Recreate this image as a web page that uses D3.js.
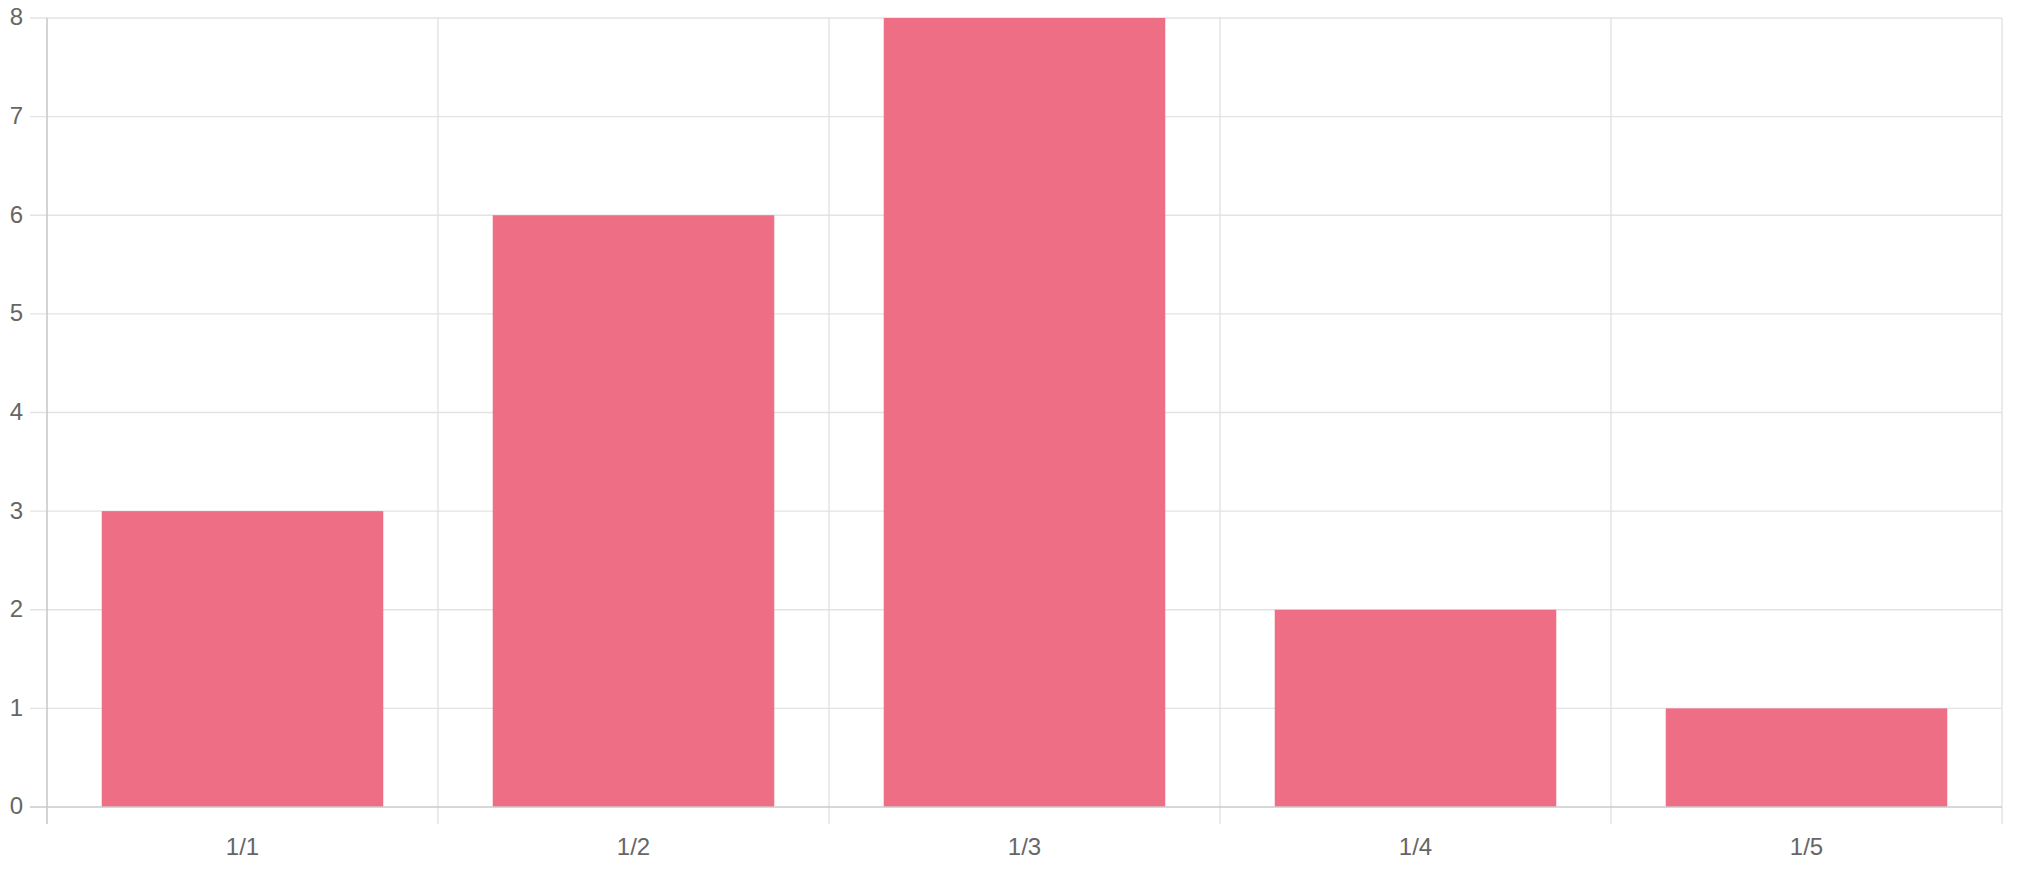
<!DOCTYPE html>
<html>
<head>
<meta charset="utf-8">
<script src="https://cdn.jsdelivr.net/npm/d3@7/dist/d3.min.js"></script>
<style>
  html, body { margin: 0; padding: 0; background: #fff; }
  svg { display: block; }
  text { font-family: "Liberation Sans", Arial, Helvetica, sans-serif; fill: #666; }
</style>
</head>
<body>
<svg id="chart" width="2024" height="876"></svg>
<script>
const categories = ["1/1", "1/2", "1/3", "1/4", "1/5"];
const values = [3, 6, 8, 2, 1];
const yTicks = [0, 1, 2, 3, 4, 5, 6, 7, 8];

const W = 2024, H = 876;
const margin = { left: 47, right: 22, top: 18, bottom: 69 };
const svg = d3.select("#chart");

const x = d3.scaleBand().domain(categories)
  .range([margin.left, W - margin.right])
  .paddingInner(0).paddingOuter(0);
const y = d3.scaleLinear().domain([0, 8]).range([H - margin.bottom, margin.top]);

const barPct = 0.72;
const tickLen = 17;

// horizontal grid
svg.append("g").selectAll("line").data(yTicks.filter(d => d !== 0)).join("line")
  .attr("x1", margin.left - tickLen).attr("x2", W - margin.right)
  .attr("y1", d => y(d)).attr("y2", d => y(d))
  .attr("stroke", "#e3e3e3").attr("stroke-width", 1.3);

// vertical grid (category boundaries)
const bounds = categories.map(c => x(c)).concat([x(categories[categories.length - 1]) + x.bandwidth()]);
svg.append("g").selectAll("line").data(bounds.slice(1)).join("line")
  .attr("x1", d => d).attr("x2", d => d)
  .attr("y1", margin.top).attr("y2", y(0) + tickLen)
  .attr("stroke", "#e0e0e0").attr("stroke-width", 1.3);

// bars
svg.append("g").selectAll("rect").data(values).join("rect")
  .attr("x", (d, i) => x(categories[i]) + x.bandwidth() * (1 - barPct) / 2)
  .attr("width", x.bandwidth() * barPct)
  .attr("y", d => y(d))
  .attr("height", d => y(0) - y(d))
  .attr("fill", "#ee6e85");

// axes lines
svg.append("line")
  .attr("x1", margin.left).attr("x2", margin.left)
  .attr("y1", margin.top).attr("y2", y(0) + tickLen)
  .attr("stroke", "#cacaca").attr("stroke-width", 1.6);
svg.append("line")
  .attr("x1", margin.left - tickLen).attr("x2", W - margin.right)
  .attr("y1", y(0)).attr("y2", y(0))
  .attr("stroke", "#cacaca").attr("stroke-width", 1.6);

// y labels
svg.append("g").selectAll("text").data(yTicks).join("text")
  .attr("x", 23).attr("y", d => y(d) - 1)
  .attr("dy", "0.35em")
  .attr("text-anchor", "end")
  .attr("font-size", 24)
  .text(d => d);

// x labels
svg.append("g").selectAll("text").data(categories).join("text")
  .attr("x", d => x(d) + x.bandwidth() / 2)
  .attr("y", y(0) + 40)
  .attr("dy", "0.35em")
  .attr("text-anchor", "middle")
  .attr("font-size", 24)
  .text(d => d);
</script>
</body>
</html>
